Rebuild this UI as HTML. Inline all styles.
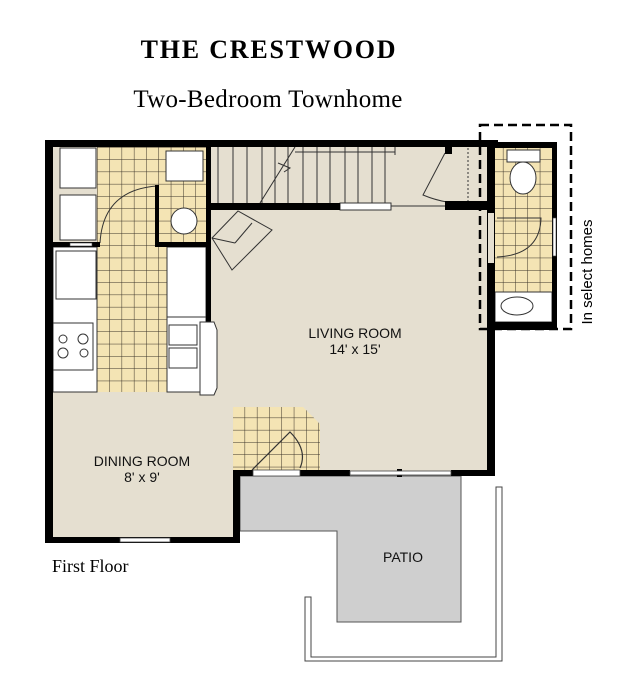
<!DOCTYPE html>
<html><head><meta charset="utf-8"><style>
html,body{margin:0;padding:0;background:#fff}
svg{display:block}
</style></head><body>
<svg width="632" height="698" viewBox="0 0 632 698" xmlns="http://www.w3.org/2000/svg">
<defs>
<pattern id="tile" x="97" y="147" width="12.3" height="12.3" patternUnits="userSpaceOnUse">
<rect width="12.3" height="12.3" fill="#f4e4b4"/>
<path d="M0 0H12.3M0 0V12.3" stroke="#3a3328" stroke-width="1"/>
</pattern>
</defs>
<text x="269" y="58" text-anchor="middle" font-family="Liberation Serif, serif" font-weight="bold" font-size="26" letter-spacing="1.8">THE CRESTWOOD</text>
<text x="268" y="107" text-anchor="middle" font-family="Liberation Serif, serif" font-size="25" letter-spacing="0.3">Two-Bedroom Townhome</text>

<!-- floor -->
<rect x="48" y="145" width="445" height="330" fill="#e5dfd0"/>
<rect x="48" y="390" width="190" height="150" fill="#e5dfd0"/>
<!-- kitchen tile -->
<rect x="97" y="147" width="110" height="245" fill="url(#tile)"/>
<rect x="158" y="147" width="48" height="98" fill="url(#tile)"/>
<!-- entry tile -->
<polygon points="233,407 303,407 320,424 320,470 233,470" fill="url(#tile)"/>
<path d="M252 470 L290 432 Q308 450 300 468" fill="none" stroke="#333" stroke-width="1.2"/>
<!-- bath tile -->
<rect x="495" y="147" width="57" height="145" fill="url(#tile)"/>
<rect x="495" y="292" width="57" height="30" fill="#fff" stroke="#333"/>
<ellipse cx="517" cy="306" rx="16" ry="9" fill="#fff" stroke="#333"/>
<rect x="507" y="150" width="33" height="12" fill="#fff" stroke="#333"/>
<ellipse cx="523" cy="178" rx="13" ry="16" fill="#fff" stroke="#333"/>
<path d="M497 257 Q540 255 541 218 L497 218" fill="none" stroke="#333"/>

<!-- kitchen appliances -->
<rect x="60" y="148" width="36" height="40" fill="#fff" stroke="#333"/>
<rect x="60" y="195" width="36" height="45" fill="#fff" stroke="#333"/>
<rect x="166" y="151" width="37" height="30" fill="#fff" stroke="#333"/>
<circle cx="184" cy="221" r="13" fill="#fff" stroke="#333"/>
<path d="M100 243 Q103 190 157 186 L157 243" fill="none" stroke="#333"/>
<rect x="53" y="247" width="44" height="145" fill="#fff" stroke="#333"/>
<rect x="56" y="251" width="40" height="48" fill="#fff" stroke="#333"/>
<rect x="53" y="323" width="40" height="47" fill="#fff" stroke="#333"/>
<circle cx="63" cy="339" r="4" fill="none" stroke="#333"/><circle cx="83" cy="339" r="5" fill="none" stroke="#333"/>
<circle cx="63" cy="353" r="5" fill="none" stroke="#333"/><circle cx="84" cy="353" r="4" fill="none" stroke="#333"/>
<rect x="167" y="247" width="39" height="145" fill="#fff" stroke="#333"/>
<rect x="167" y="247" width="39" height="70" fill="#fff" stroke="#333"/>
<rect x="169" y="325" width="28" height="20" fill="#fff" stroke="#333"/>
<rect x="169" y="348" width="28" height="20" fill="#fff" stroke="#333"/>

<!-- stairs -->
<g stroke="#333" stroke-width="1">
<line x1="218" y1="147" x2="218" y2="203"/><line x1="233" y1="147" x2="233" y2="203"/><line x1="247" y1="147" x2="247" y2="203"/><line x1="262" y1="147" x2="262" y2="203"/><line x1="275" y1="147" x2="275" y2="203"/><line x1="288" y1="147" x2="288" y2="203"/><line x1="303" y1="147" x2="303" y2="203"/><line x1="317" y1="147" x2="317" y2="203"/><line x1="330" y1="147" x2="330" y2="203"/><line x1="345" y1="147" x2="345" y2="203"/><line x1="358" y1="147" x2="358" y2="203"/><line x1="372" y1="147" x2="372" y2="203"/><line x1="385" y1="147" x2="385" y2="203"/><line x1="395" y1="147" x2="395" y2="155"/>
<line x1="295" y1="152" x2="395" y2="152"/>
<line x1="295" y1="147" x2="260" y2="203"/>
<polyline points="278,163 290,168 284,172" fill="none"/>
<line x1="391" y1="206" x2="445" y2="206"/>
<polygon points="212,238 238,211 272,230 232,270" fill="none"/>
<line x1="212" y1="238" x2="235" y2="243"/><line x1="235" y1="243" x2="252" y2="223"/>
<path d="M445 153 L423 195 Q435 200 447 202" fill="none"/>
<line x1="468" y1="148" x2="468" y2="203" stroke-dasharray="2,2"/>
</g>
<rect x="340" y="203" width="51" height="7" fill="#fff" stroke="#333"/>

<!-- patio -->
<polygon points="240,476 461,476 461,622 337,622 337,531 240,531" fill="#cfcfcf" stroke="#555"/>
<g fill="none" stroke="#444" stroke-width="1">
<path d="M305 597 H311 V657 H496 V487 H502 V661 H305 Z"/>
</g>

<!-- walls -->
<g fill="#000">
<rect x="45" y="140" width="453" height="7"/>
<rect x="45" y="140" width="8" height="403"/>
<rect x="45" y="537" width="195" height="6"/>
<rect x="233" y="470" width="7" height="73"/>
<rect x="233" y="470" width="20" height="6"/>
<rect x="300" y="470" width="50" height="6"/>
<rect x="451" y="470" width="42" height="6"/>
<rect x="487" y="140" width="8" height="336"/>
<rect x="206" y="140" width="5" height="182"/>
<rect x="206" y="203" width="134" height="7"/>
<rect x="445" y="201" width="50" height="9"/>
<rect x="445" y="147" width="7" height="7"/>
<rect x="48" y="242" width="52" height="5"/>
<rect x="155" y="242" width="52" height="5"/>
<rect x="155" y="185" width="4" height="62"/>
<rect x="487" y="142" width="70" height="6"/>
<rect x="552" y="142" width="5" height="188"/>
<rect x="487" y="322" width="70" height="8"/>
<rect x="397" y="469" width="5" height="8"/>
</g>
<polygon points="200,322 214,322 217,330 217,388 214,395 200,395" fill="#fff" stroke="#333"/>
<rect x="488" y="213" width="6" height="50" fill="#e5dfd0"/>
<rect x="350" y="471" width="101" height="4" fill="#fff" stroke="#444" stroke-width="0.8"/>
<rect x="120" y="538" width="50" height="4" fill="#fff" stroke="#444" stroke-width="0.8"/>
<rect x="70" y="243" width="22" height="3" fill="#fff" stroke="#444" stroke-width="0.6"/>
<rect x="253" y="470" width="47" height="6" fill="#fff" stroke="#444" stroke-width="0.8"/>
<rect x="553" y="218" width="3" height="38" fill="#fff" stroke="#444" stroke-width="0.6"/>

<!-- dashed -->
<rect x="480" y="125" width="91" height="204" fill="none" stroke="#000" stroke-width="2.5" stroke-dasharray="9,5"/>
<text transform="translate(592,272) rotate(-90)" text-anchor="middle" font-family="Liberation Sans, sans-serif" font-size="15">In select homes</text>

<g font-family="Liberation Sans, sans-serif" font-size="14" text-anchor="middle" fill="#111">
<text x="355" y="338">LIVING ROOM</text>
<text x="355" y="354">14' x 15'</text>
<text x="142" y="466">DINING ROOM</text>
<text x="142" y="482">8' x 9'</text>
<text x="403" y="562">PATIO</text>
</g>
<text x="52" y="572" font-family="Liberation Serif, serif" font-size="18">First Floor</text>
</svg>
</body></html>
